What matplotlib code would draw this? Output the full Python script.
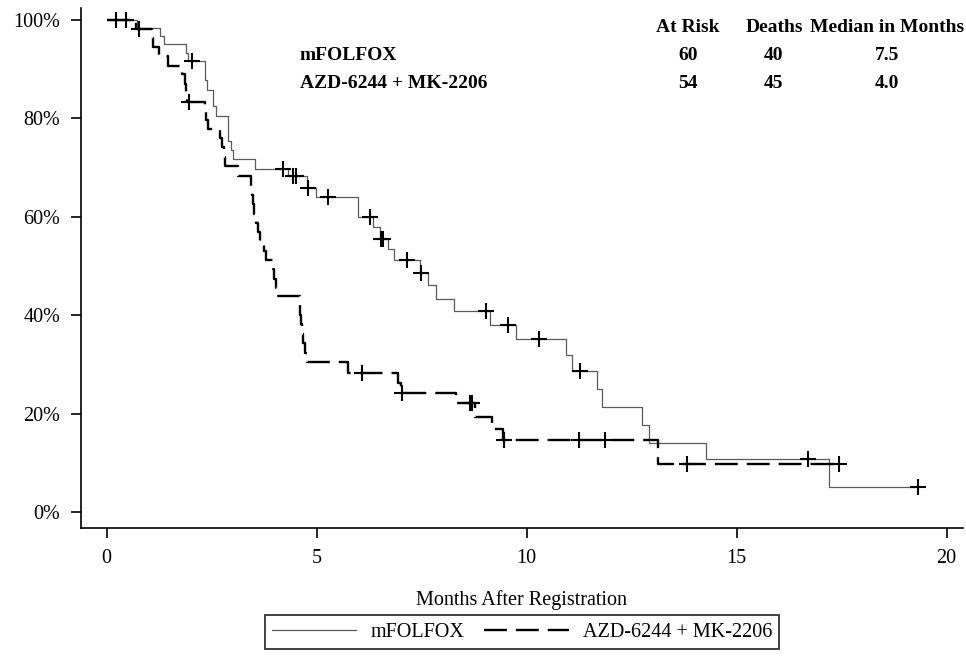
import numpy as np
import matplotlib
matplotlib.use("Agg")
import matplotlib.pyplot as plt
from matplotlib.lines import Line2D

plt.rcParams['font.family'] = ['Liberation Serif', 'DejaVu Serif']

# ---------------- data ----------------
# mFOLFOX: step times (months) and survival (%) after each step
mf_times = [0.71, 1.27, 1.37, 1.90, 1.94, 2.34, 2.35, 2.38, 2.52, 2.53, 2.60,
            2.88, 2.89, 2.90, 2.96, 3.00, 3.53, 4.32, 4.78, 4.98, 5.98, 5.99,
            6.35, 6.51, 6.71, 6.84, 7.46, 7.64, 7.84, 8.27, 9.13, 9.75, 10.94,
            11.08, 11.68, 11.79, 12.74, 12.92, 14.26, 17.20]
mf_surv = [98.3, 96.7, 95.0, 93.3, 91.7, 89.8, 87.8, 85.8, 84.1, 82.4, 80.5,
           78.7, 77.0, 75.3, 73.5, 71.7, 69.7, 68.2, 65.8, 64.0, 62.0, 60.0,
           57.9, 55.4, 53.4, 51.1, 48.5, 46.1, 43.2, 40.9, 38.0, 35.1, 31.9,
           28.7, 25.0, 21.4, 17.7, 14.1, 10.8, 5.1]
mf_censor = [0.22, 0.46, 2.02, 4.20, 4.44, 4.51, 4.80, 5.26, 6.27, 6.53, 6.59,
             7.14, 7.48, 9.03, 9.56, 10.30, 11.27, 16.69, 19.32]
mf_end = 19.32

# AZD-6244 + MK-2206
az_times = [0.70, 1.09, 1.10, 1.25, 1.45, 1.80, 1.86, 1.90, 1.92, 2.34, 2.36,
            2.42, 2.70, 2.74, 2.80, 2.82, 3.13, 3.43, 3.46, 3.48, 3.50, 3.56,
            3.60, 3.64, 3.75, 3.80, 3.95, 3.99, 4.03, 4.06, 4.60, 4.61, 4.62,
            4.64, 4.68, 4.72, 4.76, 5.75, 6.94, 7.00, 8.32, 8.78, 9.18, 9.44,
            13.13]
az_surv = [98.1, 96.3, 94.4, 92.6, 90.7, 88.9, 87.0, 85.2, 83.3, 81.4, 79.6,
           77.8, 75.9, 74.1, 72.2, 70.2, 68.2, 66.3, 64.4, 62.5, 60.6, 58.7,
           56.8, 55.0, 53.1, 51.2, 49.3, 47.4, 45.6, 43.8, 41.9, 40.0, 38.1,
           36.2, 34.3, 32.4, 30.4, 28.2, 26.2, 24.1, 22.2, 19.4, 16.8, 14.6,
           9.7]
az_censor = [0.78, 1.95, 6.07, 7.02, 8.65, 8.71, 9.46, 11.25, 11.86, 13.82, 17.44]
az_end = 17.44

x_ticks = [0, 5, 10, 15, 20]
y_ticks = [0, 20, 40, 60, 80, 100]

table_header = ["At Risk", "Deaths", "Median in Months"]
groups = ["mFOLFOX", "AZD-6244 + MK-2206"]
at_risk = [60, 54]
deaths = [40, 45]
medians = ["7.5", "4.0"]

x_label = "Months After Registration"

# ---------------- helpers ----------------
def step_xy(times, surv, end):
    t = np.concatenate([[0.0], times, [end]])
    s = np.concatenate([[100.0], surv, [surv[-1]]])
    return t, s

def surv_at(times, surv, tc):
    idx = np.searchsorted(np.asarray(times), np.asarray(tc), side='right')
    s = np.concatenate([[100.0], surv])
    return s[idx]

W, H = 966, 662
fig = plt.figure(figsize=(W / 100, H / 100), dpi=100)
ax = fig.add_axes([81 / W, 1 - 528 / H, (963 - 81) / W, (528 - 8) / H])

GRAY = '#5a5a5a'
DASH = (9.7, 3.8)
FS = 14.5

t1, s1 = step_xy(mf_times, mf_surv, mf_end)
ax.step(t1, s1, where='post', color=GRAY, lw=0.9)
t2, s2 = step_xy(az_times, az_surv, az_end)
ax.step(t2, s2, where='post', color='black', lw=1.7, dashes=DASH)

ax.plot(mf_censor, surv_at(mf_times, mf_surv, mf_censor), ls='none',
        marker='+', ms=11, mew=1.5, color='black')
ax.plot(az_censor, surv_at(az_times, az_surv, az_censor), ls='none',
        marker='+', ms=11, mew=1.5, color='black')

ax.set_xlim(-0.612, 20.39)
ax.set_ylim(-3.25, 102.4)
ax.set_xticks(x_ticks)
ax.set_yticks(y_ticks)
ax.set_yticklabels([f"{v}%" for v in y_ticks])
for sp in ['top', 'right']:
    ax.spines[sp].set_visible(False)
for sp in ['left', 'bottom']:
    ax.spines[sp].set_linewidth(1.2)
ax.tick_params(axis='both', direction='out', length=7, width=1.2,
               labelsize=FS, pad=8, colors='black')
ax.set_xlabel(x_label, fontsize=FS, labelpad=16)

# header table
col_x = [688, 774, 887]
row_y = [27, 55, 83]
HFS = 14
for cx, lab in zip(col_x, table_header):
    fig.text(cx / W, 1 - row_y[0] / H, lab, ha='center', va='center',
             fontsize=HFS, fontweight='bold')
for i, g in enumerate(groups):
    y = 1 - row_y[i + 1] / H
    fig.text(300 / W, y, g, ha='left', va='center', fontsize=HFS, fontweight='bold')
    fig.text(col_x[0] / W, y, str(at_risk[i]), ha='center', va='center',
             fontsize=HFS, fontweight='bold')
    fig.text(col_x[1] / W, y, str(deaths[i]), ha='center', va='center',
             fontsize=HFS, fontweight='bold')
    fig.text(col_x[2] / W, y, medians[i], ha='center', va='center',
             fontsize=HFS, fontweight='bold')

handles = [Line2D([], [], color=GRAY, lw=0.9),
           Line2D([], [], color='black', lw=1.7, dashes=DASH)]
leg = fig.legend(handles, groups, loc='center', ncol=2,
                 bbox_to_anchor=(522 / W, 1 - 632 / H), frameon=True,
                 fancybox=False, fontsize=FS, handlelength=4.2,
                 columnspacing=1.0, handletextpad=0.7, borderpad=0.35,
                 edgecolor='black')
leg.get_frame().set_linewidth(1.3)

fig.savefig("out.png", dpi=100)
